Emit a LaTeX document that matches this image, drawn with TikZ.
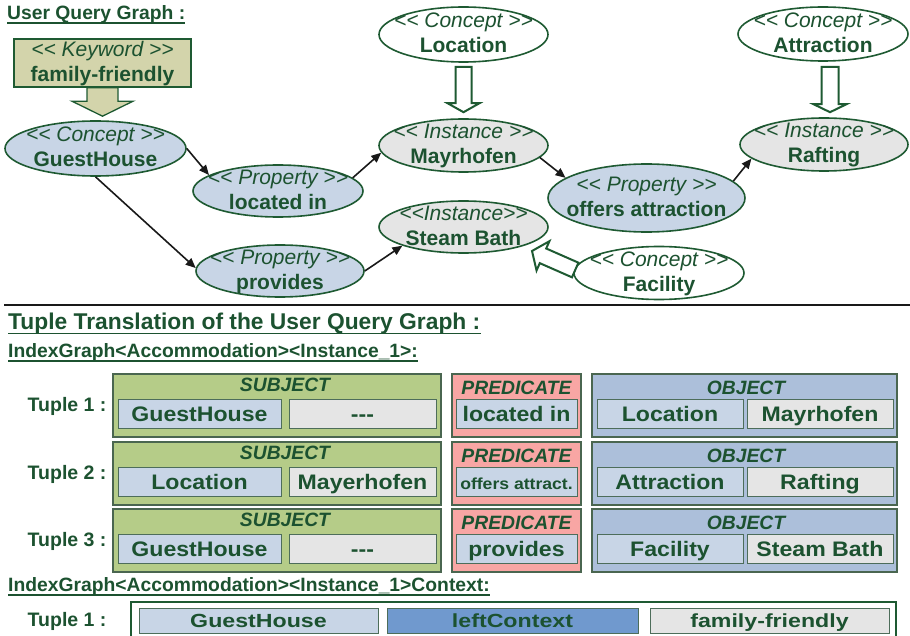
\documentclass[tikz,border=0pt]{standalone}
\usepackage{fontspec}
\setmainfont{Liberation Sans}
\newfontfamily\widesans{Liberation Sans}[FakeStretch=1.1]
\newfontfamily\widersans{Liberation Sans}[FakeStretch=1.22]
\usetikzlibrary{arrows.meta,calc,shapes.geometric}

\definecolor{ink}{HTML}{1C5230}
\definecolor{edge}{HTML}{1E5A32}
\definecolor{blueF}{HTML}{C8D5E6}
\definecolor{grayF}{HTML}{E5E5E5}
\definecolor{kwF}{HTML}{D3D4AB}
\definecolor{subjF}{HTML}{B5CC88}
\definecolor{predF}{HTML}{F8A6A4}
\definecolor{objF}{HTML}{ACBFDA}
\definecolor{ctxF}{HTML}{7099CE}
\definecolor{boxline}{HTML}{4D6D5A}
\definecolor{outline}{HTML}{4A6650}

% angle brackets and dashes kept apart so no ligature mapping merges them
\newcommand\ltlt{<\kern0pt<}
\newcommand\gtgt{>\kern0pt>}
\newcommand\tripledash{-\kern0pt-\kern0pt-}
\newcommand\efont{\fontsize{21}{25}\selectfont}

% hollow block arrow: #1 style, #2 tail, #3 tip, #4 half shaft, #5 half head, #6 head length
\newcommand\hollowarrow[6]{%
  \coordinate (ha-q) at ($(#3)!#6!(#2)$);
  \draw[#1] ($(#2)!#4!90:(#3)$) -- ($(ha-q)!#4!90:(#3)$) -- ($(ha-q)!#5!90:(#3)$)
    -- (#3) -- ($(ha-q)!#5!-90:(#3)$) -- ($(ha-q)!#4!-90:(#3)$)
    -- ($(#2)!#4!-90:(#3)$) -- cycle;}

% one tuple row of the table: #1 tag, #2 top, #3 label, #4-#5 subject, #6 predicate, #7-#8 object
\newcommand\tuplerow[8]{%
  \node[outer, fill=subjF, minimum width=328pt] (s#1) at (277,#2+31.5) {};
  \node[outer, fill=predF, minimum width=129pt] (p#1) at (516.5,#2+31.5) {};
  \node[outer, fill=objF, minimum width=305pt] (o#1) at (744.5,#2+31.5) {};
  \node[hdr] (sh#1) at (285,#2+17) {SUBJECT};
  \node[hdr] (ph#1) at (516.5,#2+20.5) {PREDICATE};
  \node[hdr] (oh#1) at (746,#2+20.5) {OBJECT};
  \node[inbox, fill=blueF, minimum width=163pt] (sa#1) at (199.5,#2+40) {#4};
  \node[inbox, fill=grayF, minimum width=147pt] (sb#1) at (362.5,#2+40) {#5};
  \node[inbox, fill=blueF, minimum width=121pt] (pa#1) at (516.5,#2+40) {#6};
  \node[inbox, fill=blueF, minimum width=146pt] (oa#1) at (670,#2+40) {#7};
  \node[inbox, fill=grayF, minimum width=146pt] (ob#1) at (820,#2+40) {#8};
  \node[tuplbl] (t#1) at (27.5,#2+37) {#3};}

\begin{document}
\begin{tikzpicture}[x=1pt,y=-1pt,
  ell/.style={ellipse, draw=edge, line width=1.6pt, inner sep=0pt},
  elabel/.style={text=ink, inner sep=0pt, text height=15pt, text depth=0pt},
  etext/.style 2 args={
    label={[elabel, font=\efont\itshape, yshift=14pt]center:{#1}},
    label={[elabel, font=\efont\bfseries, yshift=-11pt]center:{#2}}},
  conn/.style={line width=1.6pt, draw=black!90, -{Triangle[length=10pt,width=8.5pt]}},
  head/.style={anchor=base west, inner sep=0pt, text=ink},
  uline/.style={draw=ink, line width=1.8pt},
  outer/.style={rectangle, draw=outline, line width=1.2pt, minimum height=63pt, inner sep=0pt},
  hdr/.style={anchor=base, inner sep=0pt, text=ink, font=\fontsize{19.3}{19}\selectfont\bfseries\itshape},
  inbox/.style={rectangle, draw=boxline, line width=1pt, minimum height=29pt, inner sep=0pt,
    text=ink, text height=15pt, text depth=0pt, font=\widesans\fontsize{21}{21}\selectfont\bfseries},
  cbox/.style={rectangle, draw=boxline, line width=1pt, minimum height=25pt, inner sep=0pt,
    text=ink, text height=13.6pt, text depth=0pt, font=\widersans\fontsize{19}{19}\selectfont\bfseries},
  tuplbl/.style={anchor=base west, inner sep=0pt, text=ink, font=\fontsize{19.5}{19.5}\selectfont\bfseries},
]
\useasboundingbox (0,0) rectangle (910,636);

% ---------- query graph ----------
\node[head, font=\fontsize{19.3}{19}\selectfont\bfseries] (hq) at (7,19.5) {User Query Graph :};

\node[rectangle, draw=edge, line width=1.3pt, fill=kwF, minimum width=177pt, minimum height=48pt, inner sep=0pt,
  label={[elabel, font=\efont\itshape, yshift=13.5pt]center:{\ltlt{} Keyword \gtgt}},
  label={[elabel, font=\efont\bfseries, yshift=-11pt]center:{family-friendly}}] (kw) at (102.5,63) {};

\node[ell, fill=blueF, minimum width=181pt, minimum height=55pt,
  etext={\ltlt{} Concept \gtgt}{GuestHouse}] (gh) at (95.5,148.5) {};
\node[ell, fill=blueF, minimum width=170pt, minimum height=52pt,
  etext={\ltlt{} Property \gtgt}{located in}] (li) at (278,191) {};
\node[ell, fill=blueF, minimum width=168pt, minimum height=52pt,
  etext={\ltlt{} Property \gtgt}{provides}] (pr) at (280,271) {};
\node[ell, fill=white, minimum width=169pt, minimum height=55pt,
  etext={\ltlt{} Concept \gtgt}{Location}] (locc) at (463.5,34.5) {};
\node[ell, fill=grayF, minimum width=169pt, minimum height=53pt,
  etext={\ltlt{} Instance \gtgt}{Mayrhofen}] (may) at (463.5,145.5) {};
\node[ell, fill=grayF, minimum width=169pt, minimum height=52pt,
  etext={\ltlt{}Instance\gtgt}{Steam Bath}] (stb) at (463.5,227) {};
\node[ell, fill=blueF, minimum width=197pt, minimum height=68pt,
  etext={\ltlt{} Property \gtgt}{offers attraction}] (offr) at (646.5,198) {};
\node[ell, fill=white, minimum width=170pt, minimum height=54pt,
  etext={\ltlt{} Concept \gtgt}{Attraction}] (att) at (823,34) {};
\node[ell, fill=grayF, minimum width=168pt, minimum height=53pt,
  etext={\ltlt{} Instance \gtgt}{Rafting}] (raf) at (824,144.5) {};
\node[ell, fill=white, minimum width=170pt, minimum height=53pt,
  etext={\ltlt{} Concept \gtgt}{Facility}] (fac) at (659,273) {};

% block arrows: keyword and concepts onto their targets
\coordinate (kwA) at (kw.south);
\coordinate (kwB) at ($(kw.south |- gh.north)+(0,-4)$);
\hollowarrow{draw=edge, line width=1.3pt, fill=kwF, line join=miter}{kwA}{kwB}{15.5pt}{30.5pt}{15pt}
\coordinate (locA) at ($(locc.south)+(0,4)$);
\coordinate (locB) at ($(may.north)+(0,-6)$);
\hollowarrow{draw=edge, line width=2pt, fill=white, line join=miter}{locA}{locB}{8pt}{16pt}{9pt}
\coordinate (attA) at ($(att.south)+(7,5)$);
\coordinate (attB) at ($(raf.north)+(6,-5)$);
\hollowarrow{draw=edge, line width=2pt, fill=white, line join=miter}{attA}{attB}{8.5pt}{16.5pt}{8pt}
\coordinate (facA) at ($(fac.west)+(2,-3)$);
\coordinate (facB) at ($(stb.center)+(68.5,24)$);
\hollowarrow{draw=edge, line width=2pt, fill=white, line join=miter}{facA}{facB}{8pt}{16pt}{12pt}

% property links
\draw[conn] (gh.east) -- (li.167);
\draw[conn] (gh.south) -- (pr.178);
\draw[conn] (li.10) -- (may.185);
\draw[conn] (pr.east) -- (stb.197);
\draw[conn] (may.-9) -- (offr.166);
\draw[conn] (offr.11) -- (raf.191);

% ---------- separator ----------
\draw[line width=2.5pt, black!90] (4,305) -- (910,305);

% ---------- tuple table ----------
\node[head, font=\fontsize{22.8}{23}\selectfont\bfseries] (ht) at (8,330) {Tuple Translation of the User Query Graph :};
\node[head, font=\fontsize{19.3}{19}\selectfont\bfseries] (hi1) at (8,357.5) {IndexGraph<Accommodation><Instance\_1>:};

\tuplerow{1}{374}{Tuple 1 :}{GuestHouse}{\tripledash}{located in}{Location}{Mayrhofen}
\tuplerow{2}{442}{Tuple 2 :}{Location}{Mayerhofen}{{\fontsize{16}{16}\selectfont offers attract.}}{Attraction}{Rafting}
\tuplerow{3}{509}{Tuple 3 :}{GuestHouse}{\tripledash}{provides}{Facility}{Steam Bath}

\node[head, font=\fontsize{19.3}{19}\selectfont\bfseries] (hi2) at (8,591.5) {IndexGraph<Accommodation><Instance\_1>Context:};

\node[tuplbl] (tc) at (27.5,626) {Tuple 1 :};
\node[rectangle, draw=edge, line width=1.2pt, fill=white, minimum width=765pt, minimum height=50pt, inner sep=0pt] (ctx) at (513.5,627) {};
\node[cbox, fill=blueF, minimum width=239pt] (cg) at (258.5,620.5) {GuestHouse};
\node[cbox, fill=ctxF, minimum width=251pt] (cl) at (512.5,620.5) {leftContext};
\node[cbox, fill=grayF, minimum width=239pt] (cf) at (769.5,620.5) {family-friendly};

% underlines of the headings
\foreach \h in {hq,ht,hi1,hi2}
  \draw[uline] ([yshift=-3.5pt]\h.base west) -- ([yshift=-3.5pt]\h.base east);
\end{tikzpicture}
\end{document}
